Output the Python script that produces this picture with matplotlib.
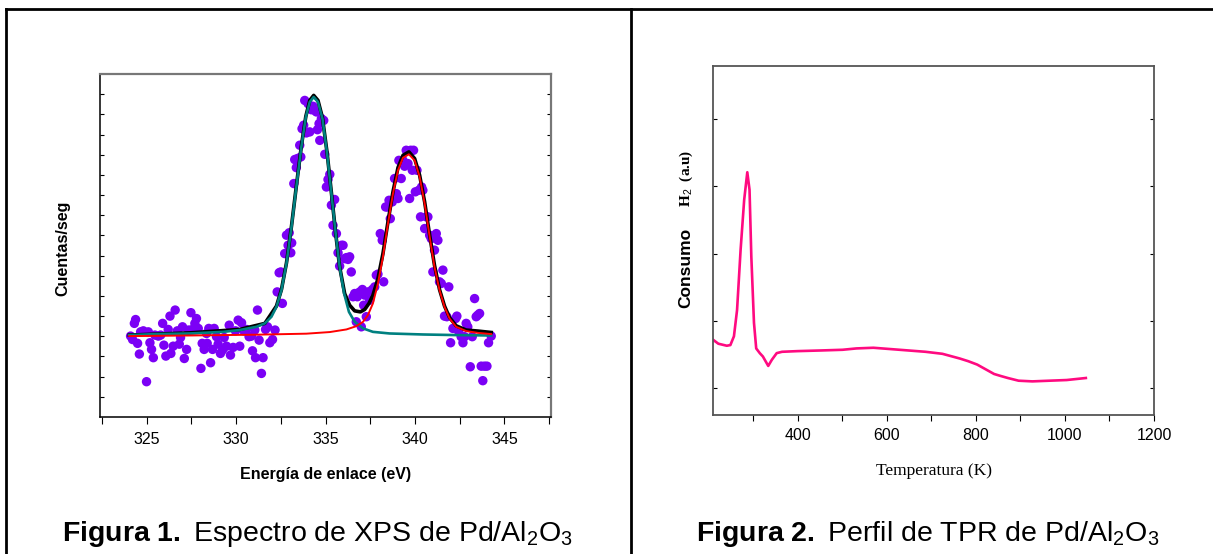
import matplotlib
matplotlib.use("Agg")
import matplotlib.pyplot as plt
from matplotlib.lines import Line2D
from matplotlib.ticker import MultipleLocator

plt.rcParams["font.family"] = ["Liberation Sans", "DejaVu Sans"]
plt.rcParams["mathtext.fontset"] = "custom"
plt.rcParams["mathtext.rm"] = "Liberation Sans"
plt.rcParams["mathtext.it"] = "Liberation Sans:italic"
plt.rcParams["mathtext.bf"] = "Liberation Sans:bold"

# ---- Figure 1: XPS Pd 3d (binding energy in eV, counts in arbitrary units)
xps_energy = [
    324.11, 324.22, 324.32, 324.39, 324.50, 324.60, 324.67, 324.82, 325.00, 325.10,
    325.19, 325.28, 325.38, 325.47, 325.66, 325.79, 325.90, 325.97, 326.08, 326.21,
    326.31, 326.36, 326.49, 326.60, 326.72, 326.83, 326.90, 327.01, 327.11, 327.24,
    327.35, 327.48, 327.57, 327.70, 327.79, 327.89, 328.04, 328.11, 328.22, 328.35,
    328.39, 328.48, 328.58, 328.69, 328.78, 328.91, 329.00, 329.13, 329.25, 329.34,
    329.47, 329.62, 329.69, 329.84, 329.97, 330.12, 330.21, 330.31, 330.44, 330.58,
    330.73, 330.86, 330.92, 331.05, 331.09, 331.20, 331.29, 331.42, 331.51, 331.65,
    331.76, 331.89, 332.04, 332.18,
    332.30, 332.41, 332.50, 332.59, 332.72, 332.82, 332.91, 332.97, 333.06, 333.11,
    333.23, 333.28, 333.37, 333.43, 333.56, 333.62, 333.69, 333.78, 333.84, 333.93,
    334.03, 334.12, 334.21, 334.30, 334.40, 334.49, 334.55, 334.64, 334.68, 334.77,
    334.90, 334.96, 335.05, 335.14, 335.24, 335.33, 335.42, 335.51, 335.61, 335.70,
    335.79, 335.89, 335.98, 336.07, 336.17, 336.26, 336.35, 336.44, 336.54, 336.63,
    336.72, 336.78, 336.91, 337.00, 337.06, 337.13, 337.19, 337.28, 337.37, 337.47,
    337.62, 337.75, 337.84, 337.93, 338.06, 338.17, 338.25, 338.36, 338.45, 338.55,
    338.62, 338.73, 338.86, 338.96, 339.05, 339.10, 339.23, 339.33, 339.42, 339.51,
    339.61, 339.70, 339.76, 339.85, 339.92, 340.02, 340.11, 340.22, 340.31, 340.37,
    340.44, 340.54, 340.63, 340.72, 340.82, 340.91, 341.00, 341.09, 341.19, 341.28,
    341.37, 341.47, 341.56, 341.65, 341.78, 341.89, 341.99, 342.12, 342.27, 342.34,
    342.45, 342.58, 342.68, 342.77, 342.86, 342.95, 343.09, 343.20, 343.33, 343.42,
    343.51, 343.61, 343.70, 343.79, 343.88, 344.02, 344.11, 344.26,
]
xps_counts = [
    4.01, 3.84, 4.64, 4.83, 3.65, 3.12, 4.22, 4.27, 1.75, 4.22,
    3.68, 3.35, 2.94, 4.06, 4.01, 4.06, 4.64, 3.56, 3.02, 4.34,
    5.00, 3.15, 3.51, 5.30, 4.27, 3.61, 3.94, 4.47, 2.90, 3.35,
    4.31, 5.17, 4.34, 4.64, 4.88, 4.39, 2.41, 3.65, 3.35, 4.14,
    3.65, 4.39, 2.69, 3.35, 4.39, 3.98, 3.61, 3.15, 3.32, 3.94,
    3.51, 4.55, 3.07, 3.45, 4.27, 4.80, 3.51, 4.67, 4.27, 4.34,
    3.98, 4.01, 3.28, 4.31, 2.94, 5.30, 3.81, 2.16, 2.94, 4.34,
    4.47, 3.68, 3.84, 4.31,
    6.20, 7.15, 7.19, 5.63, 8.10, 9.01, 8.51, 9.13, 8.14, 8.63,
    11.57, 12.76, 12.36, 12.81, 13.47, 12.89, 14.29, 14.46, 15.69, 14.08,
    15.53, 14.13, 15.23, 15.40, 15.20, 15.12, 14.24, 14.54, 13.71, 14.79,
    14.70, 13.02, 11.40, 11.77, 12.03, 10.50, 9.50, 10.78, 9.09, 8.14,
    7.48, 8.51, 8.51, 7.85, 7.90, 7.81, 7.94, 7.19, 5.96, 6.12,
    4.72, 5.96, 6.20, 4.47, 6.32, 5.54, 6.04, 4.97, 6.20, 5.79,
    6.32, 6.45, 7.03, 7.08, 9.09, 8.76, 6.70, 10.41, 10.41, 10.74,
    9.83, 10.66, 11.82, 11.07, 10.83, 12.72, 11.82, 12.72, 12.43, 13.22,
    12.56, 10.83, 13.22, 12.23, 13.22, 11.16, 12.23, 11.24, 9.92, 11.40,
    11.24, 9.34, 9.92, 9.92, 9.01, 8.84, 7.19, 8.27, 9.09, 8.76,
    6.70, 6.62, 7.28, 5.00, 4.97, 6.45, 3.68, 4.39, 4.88, 5.00,
    4.22, 3.98, 3.68, 3.98, 4.64, 4.47, 2.49, 3.98, 5.87, 4.97,
    5.05, 5.13, 2.52, 1.80, 2.52, 2.52, 3.68, 4.01,
]

# fitted components
fit1_energy = [324.04, 325.56, 327.42, 329.28, 330.21, 331.14, 331.61, 331.98, 332.26, 332.54,
               332.82, 333.10, 333.37, 333.65, 333.90, 334.12, 334.34, 334.58, 334.83, 335.09,
               335.33, 335.57, 335.79, 336.04, 336.31, 336.63, 337.10, 337.65, 338.58, 340.44,
               342.30, 344.26]
fit1_counts = [4.06, 4.11, 4.14, 4.22, 4.31, 4.47, 4.64, 4.97, 5.46, 6.29,
               7.61, 9.42, 11.40, 13.38, 14.87, 15.61, 15.86, 15.61, 14.79, 13.05,
               11.07, 9.09, 7.44, 6.12, 5.21, 4.72, 4.39, 4.22, 4.14, 4.09,
               4.06, 4.04]

fit2_energy = [324.04, 327.42, 331.14, 333.93, 335.24, 336.17, 336.72, 337.10, 337.37, 337.65,
               337.93, 338.21, 338.49, 338.77, 339.05, 339.33, 339.66, 339.98, 340.26, 340.54,
               340.82, 341.09, 341.37, 341.65, 341.93, 342.30, 342.86, 343.51, 344.26]
fit2_counts = [4.01, 4.04, 4.08, 4.13, 4.21, 4.34, 4.50, 4.72, 5.05, 5.63,
               6.62, 7.94, 9.59, 11.07, 12.23, 12.85, 13.02, 12.72, 11.90, 10.58,
               8.93, 7.44, 6.29, 5.46, 4.88, 4.47, 4.26, 4.17, 4.11]

fit_sum_energy = [324.04, 327.42, 330.21, 331.61, 332.26, 332.54, 332.82, 333.10, 333.37, 333.65,
                  333.90, 334.12, 334.34, 334.58, 334.83, 335.09, 335.33, 335.57, 335.79, 336.07,
                  336.35, 336.63, 336.95, 337.19, 337.43, 337.65, 337.93, 338.21, 338.49, 338.77,
                  339.05, 339.33, 339.66, 339.98, 340.26, 340.54, 340.82, 341.09, 341.37, 341.65,
                  341.93, 342.30, 342.86, 343.51, 344.26]
fit_sum_counts = [4.06, 4.17, 4.34, 4.64, 5.50, 6.32, 7.64, 9.46, 11.44, 13.42,
                  14.90, 15.69, 15.94, 15.69, 14.83, 13.09, 11.11, 9.09, 7.44, 6.12,
                  5.54, 5.26, 5.21, 5.33, 5.63, 6.04, 6.86, 8.10, 9.67, 11.16,
                  12.36, 12.97, 13.14, 12.81, 11.98, 10.66, 9.01, 7.52, 6.32, 5.50,
                  4.93, 4.52, 4.31, 4.26, 4.19]

# ---- Figure 2: TPR profile (temperature K, H2 consumption a.u.)
tpr_temp = [210, 222, 241, 249, 257, 264, 272, 280, 287, 292,
            296, 302, 307, 315, 322, 334, 342, 353, 365, 400,
            454, 501, 532, 570, 609, 648, 687, 725, 764, 783,
            803, 822, 841, 856, 872, 896, 927, 965, 1004, 1047]
tpr_signal = [1.72, 1.66, 1.63, 1.64, 1.77, 2.16, 3.06, 3.80, 4.21, 3.95,
              2.96, 1.97, 1.59, 1.52, 1.47, 1.33, 1.42, 1.52, 1.54, 1.55,
              1.56, 1.57, 1.59, 1.60, 1.58, 1.56, 1.54, 1.51, 1.44, 1.40,
              1.35, 1.28, 1.21, 1.18, 1.15, 1.11, 1.10, 1.11, 1.12, 1.15]

W, H = 1213, 554
fig = plt.figure(figsize=(W / 100, H / 100), dpi=100)
fig.patch.set_facecolor("white")

# table-like frame around the two panels
frame = dict(transform=fig.transFigure, color="black", lw=2.0)
fig.add_artist(Line2D([6 / W, 1.0], [1 - 8.5 / H] * 2, **frame))
fig.add_artist(Line2D([6 / W] * 2, [0, 1 - 8.5 / H], **frame))
fig.add_artist(Line2D([631 / W] * 2, [0, 1 - 8.5 / H], **frame))

# ---- left panel
ax1 = fig.add_axes([100 / W, 1 - 417 / H, 451 / W, 343 / H])
ax1.scatter(xps_energy, xps_counts, s=46, color="#7B00F5", edgecolors="none", zorder=2)
ax1.plot(fit_sum_energy, fit_sum_counts, color="black", lw=2.6, zorder=3,
         solid_joinstyle="round")
ax1.plot(fit1_energy, fit1_counts, color="#008080", lw=1.9, zorder=4,
         solid_joinstyle="round")
ax1.plot(fit2_energy, fit2_counts, color="#FF0000", lw=1.4, zorder=5,
         solid_joinstyle="round")
ax1.set_xlim(322.4, 347.6)
ax1.set_ylim(0, 17)
ax1.set_xticks([325, 330, 335, 340, 345])
ax1.xaxis.set_minor_locator(MultipleLocator(2.5))
ax1.set_yticks(range(1, 17))
ax1.set_yticklabels([])
ax1.tick_params(axis="x", which="both", direction="out", length=5, width=0.8,
                labelsize=11.5, pad=6)
ax1.tick_params(axis="y", which="both", direction="in", length=3, width=0.8,
                left=True, right=True)
for side in ["left", "bottom"]:
    ax1.spines[side].set_color("black")
    ax1.spines[side].set_linewidth(1.1)
for side in ["top", "right"]:
    ax1.spines[side].set_color("#777777")
    ax1.spines[side].set_linewidth(1.6)
ax1.set_xlabel("Energía de enlace (eV)", fontsize=11.5, fontweight="bold", labelpad=14)
fig.text(63 / W, 1 - 248 / H, "Cuentas/seg", rotation=90, fontsize=11.5,
         fontweight="bold", ha="center", va="center")

# ---- right panel
ax2 = fig.add_axes([713 / W, 1 - 415 / H, 441 / W, 349 / H])
ax2.plot(tpr_temp, tpr_signal, color="#FF0A80", lw=1.9, solid_joinstyle="round")
ax2.set_xlim(210, 1200)
ax2.set_ylim(0.6, 5.79)
ax2.set_xticks([400, 600, 800, 1000, 1200])
ax2.xaxis.set_minor_locator(MultipleLocator(100))
ax2.set_yticks([1, 2, 3, 4, 5])
ax2.set_yticklabels([])
ax2.tick_params(axis="x", which="both", direction="out", length=4, width=0.8,
                labelsize=11.5, pad=5)
ax2.tick_params(axis="y", direction="in", length=3, width=0.8, left=True, right=True)
for side in ax2.spines.values():
    side.set_color("#555555")
    side.set_linewidth(1.3)
ax2.set_xlabel("Temperatura (K)", fontsize=12.5, family="Liberation Serif", labelpad=15)
fig.text(686 / W, 1 - 268 / H, "Consumo", rotation=90, fontsize=12.5,
         fontweight="bold", ha="center", va="center")
fig.text(686 / W, 1 - 178 / H, r"H$_2$  (a.u)", rotation=90, fontsize=11,
         fontweight="bold", family="Liberation Serif", ha="center", va="center")

# ---- captions
fig.text(62 / W, 13 / H, r"$\mathbf{Figura\ 1.}$ Espectro de XPS de Pd/Al$_2$O$_3$",
         fontsize=20.5, ha="left", va="baseline")
fig.text(696 / W, 13 / H, r"$\mathbf{Figura\ 2.}$ Perfil de TPR de Pd/Al$_2$O$_3$",
         fontsize=20.5, ha="left", va="baseline")

fig.savefig("out.png", dpi=100, facecolor="white")
